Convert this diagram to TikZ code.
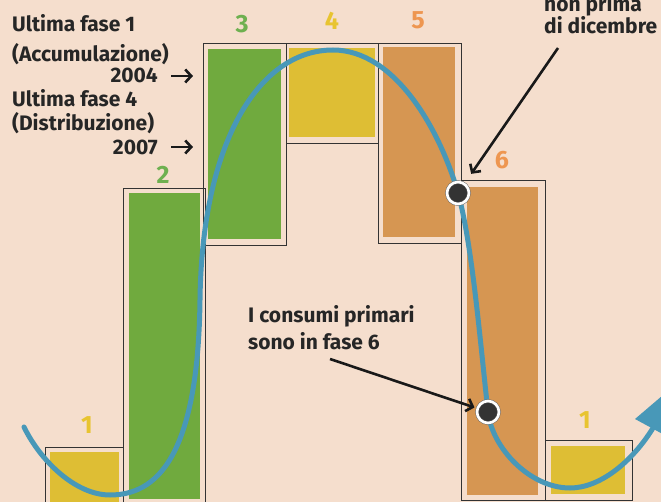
\documentclass[tikz,border=0pt]{standalone}
\usepackage{fontspec}
\setmainfont{Fira Sans}
\usetikzlibrary{arrows.meta}
\definecolor{bg}{RGB}{245,222,205}
\definecolor{cyel}{RGB}{222,190,52}
\definecolor{cgreen}{RGB}{112,170,62}
\definecolor{corange}{RGB}{214,150,82}
\definecolor{cblue}{RGB}{72,152,184}
\definecolor{numyel}{RGB}{232,196,48}
\definecolor{numgreen}{RGB}{110,176,80}
\definecolor{numorange}{RGB}{238,150,80}
\tikzset{
  outline/.style={draw=black!80, line width=0.8pt},
  txt/.style={font=\fontsize{21}{24}\selectfont\bfseries, text=black!85, inner sep=0pt},
  num/.style={font=\fontsize{25}{28}\selectfont\bfseries, inner sep=0pt},
  dot/.style={circle, fill=black!80, draw=black!60, line width=0.5pt, double=white, double distance=2.6pt, minimum size=22pt, inner sep=0pt},
  arr/.style={draw=black!90, line width=2.6pt, -{Straight Barb[length=6pt,width=13pt]}},
  wave/.style={draw=cblue, line width=5pt, line cap=round}
}
\begin{document}
\begin{tikzpicture}[x=1pt,y=-1pt]
\useasboundingbox (0,0) rectangle (661,502);
\clip (0,0) rectangle (661,502);
\fill[bg] (0,0) rectangle (661,502);
% boxes: outline and fill
\draw[outline] (45,447) rectangle (123,508);
\fill[cyel] (50,452) rectangle (119,502);
\draw[outline] (123,188) rectangle (205,508);
\fill[cgreen] (129,193) rectangle (200,499);
\draw[outline] (203,43) rectangle (286,245);
\fill[cgreen] (208,49) rectangle (281,239);
\draw[outline] (286,43) rectangle (378,143);
\fill[cyel] (289,48) rectangle (375,137);
\draw[outline] (378,43) rectangle (461,243);
\fill[corange] (383,47) rectangle (455,237);
\draw[outline] (461,180) rectangle (545,500);
\fill[corange] (467,187) rectangle (538,495);
\draw[outline] (545,440) rectangle (632,500);
\fill[cyel] (551,446) rectangle (625,494);
% numbers
\node[num, text=numyel] (n1) at (87,425) {1};
\node[num, text=numgreen] (n2) at (163,175) {2};
\node[num, text=numgreen] (n3) at (242,24) {3};
\node[num, text=numyel] (n4) at (332,21) {4};
\node[num, text=numorange] (n5) at (418,20) {5};
\node[num, text=numorange] (n6) at (502,160) {6};
\node[num, text=numyel] (n7) at (585,420) {1};
% wave
\draw[wave] (24,427) .. controls (40,460) and (75,495) .. (110,495)
  .. controls (155,495) and (198,460) .. (200,300)
  .. controls (202,140) and (260,50) .. (333,50)
  .. controls (395,50) and (440,130) .. (458,193)
  .. controls (472,243) and (480,340) .. (488,412)
  .. controls (492,448) and (530,488) .. (570,488)
  .. controls (600,488) and (632,462) .. (653,428);
\fill[cblue] (635,419) -- (676,384) -- (670,438) -- cycle;
% dots
\node[dot] (d1) at (458,193) {};
\node[dot] (d2) at (488,412) {};
% left texts
\node[txt, anchor=base west] (t1) at (12,32) {Ultima fase 1};
\node[txt, anchor=base west] (t2) at (12,62) {(Accumulazione)};
\node[txt, anchor=base east] (t3) at (158,83) {2004};
\node[txt, anchor=base west] (t4) at (12,107) {Ultima fase 4};
\node[txt, anchor=base west] (t5) at (12,131) {(Distribuzione)};
\node[txt, anchor=base east] (t6) at (158,155) {2007};
\coordinate (a1s) at (171,76); \coordinate (a1e) at (193,76);
\coordinate (a2s) at (171,147); \coordinate (a2e) at (193,147);
\draw[arr] (a1s) -- (a1e);
\draw[arr] (a2s) -- (a2e);
% right texts
\node[txt, anchor=base west] (t7) at (544,12) {non prima};
\node[txt, anchor=base west] (t8) at (544,34) {di dicembre};
\coordinate (a3s) at (558,48);
\draw[arr, shorten >=12pt] (a3s) -- (d1);
% bottom text
\node[txt, anchor=base west] (t9) at (248,323) {I consumi primari};
\node[txt, anchor=base west] (t10) at (248,350) {sono in fase 6};
\coordinate (a4s) at (330,359);
\draw[arr, shorten >=3pt] (a4s) -- (d2);
\end{tikzpicture}
\end{document}
